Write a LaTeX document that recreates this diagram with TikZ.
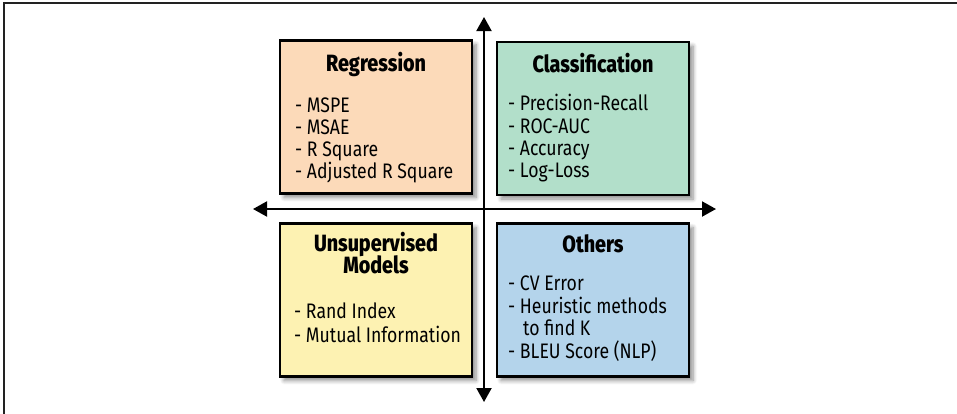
\documentclass[tikz,border=0pt]{standalone}
\usepackage{fontspec}
\setmainfont{Fira Sans}[FakeStretch=0.84, BoldFont={Fira Sans ExtraBold}]
\usetikzlibrary{arrows.meta,shadows.blur}
\definecolor{regfill}{HTML}{FCDAB9}
\definecolor{clsfill}{HTML}{B2DFCA}
\definecolor{unsfill}{HTML}{FDF2B2}
\definecolor{othfill}{HTML}{B4D4EB}
\definecolor{framecol}{HTML}{222222}
\tikzset{
  quadbox/.style={draw=black, line width=2.2pt, fill=#1, minimum width=192pt, minimum height=153pt,
    blur shadow={shadow xshift=4pt, shadow yshift=-4pt, shadow blur steps=6, shadow blur radius=4pt, shadow opacity=45}},
  ttl/.style={anchor=base, inner sep=0pt, font=\fontsize{23.5}{27}\selectfont\bfseries},
  itm/.style={anchor=base west, inner sep=0pt, font=\fontsize{21}{24}\selectfont},
  axis/.style={line width=2pt, {Triangle[length=14pt,width=15pt]}-{Triangle[length=14pt,width=15pt]}}
}
\begin{document}
\begin{tikzpicture}[x=1pt,y=-1pt]
\useasboundingbox (0,0) rectangle (957,413);
% frame
\coordinate (fb) at (4,414);
\coordinate (ftl) at (4,3);
\coordinate (ftr) at (958,3);
\draw[framecol, line width=2pt] (fb) -- (ftl) -- (ftr);
% boxes
\node[quadbox=regfill] (reg) at (376,117) {};
\node[quadbox=clsfill] (cls) at (593,118.5) {};
\node[quadbox=unsfill] (uns) at (376,300) {};
\node[quadbox=othfill] (oth) at (593,300) {};
% axes
\coordinate (vt) at (484,17);
\coordinate (vb) at (484,402);
\coordinate (hl) at (253,209);
\coordinate (hr) at (716,209);
\draw[axis] (hl) -- (hr);
\draw[axis] (vt) -- (vb);
% Regression
\node[ttl] (regt) at (376,71) {Regression};
\node[itm] (reg1) at (295,112) {- MSPE};
\node[itm] (reg2) at (295,134) {- MSAE};
\node[itm] (reg3) at (295,156) {- R Square};
\node[itm] (reg4) at (295,178) {- Adjusted R Square};
% Classification
\node[ttl] (clst) at (593,72) {Classification};
\node[itm] (cls1) at (508,110) {- Precision-Recall};
\node[itm] (cls2) at (508,133) {- ROC-AUC};
\node[itm] (cls3) at (508,155) {- Accuracy};
\node[itm] (cls4) at (508,177) {- Log-Loss};
% Unsupervised
\node[ttl] (unst1) at (376,251) {Unsupervised};
\node[ttl] (unst2) at (376,273) {Models};
\node[itm] (uns1) at (294,318) {- Rand Index};
\node[itm] (uns2) at (294,342) {- Mutual Information};
% Others
\node[ttl] (otht) at (593,252) {Others};
\node[itm] (oth1) at (508,290) {- CV Error};
\node[itm] (oth2) at (508,313) {- Heuristic methods};
\node[itm] (oth3) at (523,335) {to find K};
\node[itm] (oth4) at (508,358) {- BLEU Score (NLP)};
\end{tikzpicture}
\end{document}
